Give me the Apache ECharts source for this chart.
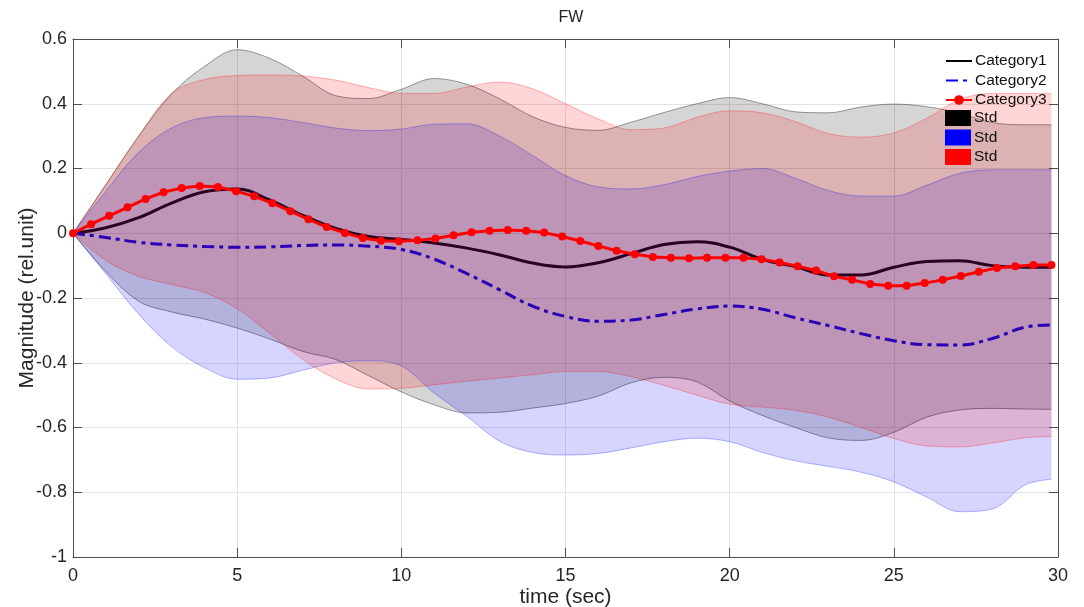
<!DOCTYPE html>
<html>
<head>
<meta charset="utf-8">
<script src="https://cdn.jsdelivr.net/npm/echarts@6/dist/echarts.min.js"></script>
<style>
html,body{margin:0;padding:0;background:#fff;}
#chart{width:1084px;height:607px;}
</style>
</head>
<body>
<div id="chart"></div>
<script>
// ---- data ----
const time = [0,1,2,3,4,5,6,7,8,9,10,11,12,13,14,15,16,17,18,19,20,21,22,23,24,25,26,27,28,29,29.8];
const cat1 = [0,0.017,0.048,0.093,0.128,0.137,0.102,0.055,0.015,-0.010,-0.019,-0.030,-0.046,-0.067,-0.092,-0.104,-0.091,-0.063,-0.035,-0.026,-0.043,-0.081,-0.103,-0.129,-0.129,-0.105,-0.087,-0.085,-0.100,-0.105,-0.105];
const cat2 = [0,-0.013,-0.028,-0.036,-0.041,-0.043,-0.042,-0.038,-0.036,-0.040,-0.050,-0.080,-0.125,-0.175,-0.225,-0.257,-0.272,-0.268,-0.251,-0.234,-0.225,-0.235,-0.261,-0.285,-0.310,-0.332,-0.344,-0.345,-0.325,-0.290,-0.283];
const time3 = [0,0.55,1.10,1.66,2.21,2.76,3.31,3.86,4.41,4.97,5.52,6.07,6.62,7.17,7.73,8.28,8.83,9.38,9.93,10.49,11.04,11.59,12.14,12.69,13.24,13.80,14.35,14.90,15.45,16.00,16.56,17.11,17.66,18.21,18.76,19.31,19.87,20.42,20.97,21.52,22.07,22.63,23.18,23.73,24.28,24.83,25.39,25.94,26.49,27.04,27.59,28.14,28.70,29.25,29.80];
const cat3 = [0,0.028,0.054,0.080,0.106,0.127,0.140,0.146,0.143,0.130,0.114,0.093,0.068,0.043,0.019,0.001,-0.015,-0.023,-0.025,-0.022,-0.016,-0.006,0.003,0.008,0.010,0.008,0.002,-0.010,-0.024,-0.039,-0.054,-0.065,-0.073,-0.076,-0.077,-0.076,-0.076,-0.076,-0.080,-0.090,-0.102,-0.115,-0.133,-0.144,-0.157,-0.162,-0.162,-0.154,-0.144,-0.132,-0.119,-0.107,-0.102,-0.098,-0.098];
const std1Upper = [0,0.15,0.30,0.43,0.515,0.567,0.54,0.485,0.425,0.416,0.445,0.478,0.46,0.415,0.36,0.327,0.318,0.343,0.373,0.400,0.419,0.40,0.375,0.372,0.39,0.399,0.391,0.371,0.342,0.335,0.335];
const std1Lower = [0,-0.118,-0.21,-0.243,-0.265,-0.293,-0.327,-0.365,-0.39,-0.44,-0.49,-0.53,-0.555,-0.553,-0.54,-0.526,-0.503,-0.462,-0.445,-0.459,-0.518,-0.563,-0.60,-0.632,-0.64,-0.615,-0.568,-0.546,-0.541,-0.543,-0.544];
const std2Upper = [0,0.13,0.25,0.325,0.357,0.362,0.357,0.342,0.325,0.317,0.322,0.337,0.338,0.30,0.24,0.178,0.143,0.137,0.15,0.175,0.192,0.20,0.17,0.132,0.115,0.115,0.148,0.185,0.196,0.196,0.196];
const std2Lower = [0,-0.125,-0.25,-0.35,-0.415,-0.451,-0.447,-0.423,-0.40,-0.394,-0.41,-0.494,-0.566,-0.643,-0.677,-0.685,-0.680,-0.663,-0.644,-0.633,-0.644,-0.677,-0.703,-0.72,-0.738,-0.768,-0.815,-0.86,-0.852,-0.777,-0.76];
const std3Upper = [0,0.15,0.30,0.432,0.475,0.487,0.489,0.486,0.473,0.45,0.432,0.432,0.452,0.467,0.446,0.40,0.353,0.32,0.325,0.358,0.378,0.372,0.345,0.308,0.297,0.31,0.355,0.413,0.432,0.432,0.432];
const std3Lower = [0,-0.084,-0.133,-0.158,-0.183,-0.233,-0.31,-0.39,-0.45,-0.481,-0.479,-0.468,-0.457,-0.447,-0.437,-0.427,-0.427,-0.443,-0.47,-0.50,-0.528,-0.537,-0.547,-0.568,-0.60,-0.634,-0.657,-0.66,-0.648,-0.632,-0.628];
const xTicks = {min: 0, max: 30, interval: 5};
const yTicks = {min: -1, max: 0.6, interval: 0.2};

// ---- build ----
const FONT = "'Liberation Sans', Arial, Helvetica, sans-serif";
const pairs = (xs, ys) => xs.map((x, i) => [x, ys[i]]);
// value first, time second (encode x:1, y:0) so that the stack acts on the value dimension
const vt = (xs, ys) => xs.map((x, i) => [ys[i], x]);
const vtDiff = (xs, up, lo) => xs.map((x, i) => [+(up[i] - lo[i]).toFixed(4), x]);

function band(key, legendName, rgb, edgeAlpha, up, lo) {
  const edge = 'rgba(' + rgb + ',' + edgeAlpha + ')';
  const common = {
    type: 'line', stack: key, stackStrategy: 'all', encode: {x: 1, y: 0},
    smooth: 0.35, symbol: 'none', showSymbol: false,
    lineStyle: {color: edge, width: 1}, itemStyle: {color: 'rgb(' + rgb + ')'},
    z: 3, silent: true
  };
  return [
    Object.assign({name: key + '-lower', data: vt(time, lo)}, common),
    Object.assign({name: legendName, data: vtDiff(time, up, lo),
      areaStyle: {color: 'rgba(' + rgb + ',0.165)', opacity: 1}}, common)
  ];
}

const axisCommon = {
  axisLine: {show: true, onZero: false, lineStyle: {color: '#4d4d4d', width: 1}},
  axisTick: {show: true, inside: true, length: 9, lineStyle: {color: '#4d4d4d'}},
  nameMoveOverlap: false
};

const legendText = {fontFamily: FONT, fontSize: 15.5, color: '#111', padding: [0, 0, 0, -2]};

const option = {
  animation: false,
  backgroundColor: '#fff',
  textStyle: {fontFamily: FONT},
  title: {
    text: 'FW', left: 566, top: 5, textAlign: 'center',
    textStyle: {fontFamily: FONT, fontSize: 16, fontWeight: 'normal', color: '#222'}
  },
  grid: {left: 73, right: 26, top: 39, bottom: 50, containLabel: false, outerBoundsMode: 'none'},
  legend: [
    {
      orient: 'vertical', left: 945, top: 53, padding: 0,
      itemWidth: 26, itemHeight: 12, itemGap: 3.5,
      textStyle: legendText,
      data: [
        {name: 'Category1', itemStyle: {opacity: 0}},
        {name: 'Category2', itemStyle: {opacity: 0}},
        {name: 'Category3'}
      ]
    },
    {
      orient: 'vertical', left: 945, top: 110, padding: 0,
      itemWidth: 26, itemHeight: 16, itemGap: 3.5,
      textStyle: legendText,
      data: [
        {name: 'Std', icon: 'rect', itemStyle: {color: '#000', opacity: 1, borderWidth: 0}},
        {name: 'Std ', icon: 'rect', itemStyle: {color: '#0000ff', opacity: 1, borderWidth: 0}},
        {name: 'Std  ', icon: 'rect', itemStyle: {color: '#ff0000', opacity: 1, borderWidth: 0}}
      ]
    }
  ],
  xAxis: [
    Object.assign({
      type: 'value', position: 'bottom', min: xTicks.min, max: xTicks.max, interval: xTicks.interval,
      axisLabel: {fontFamily: FONT, fontSize: 18, color: '#262626', margin: 10},
      splitLine: {show: true, lineStyle: {color: '#e3e3e3', width: 1}},
      name: 'time (sec)', nameLocation: 'middle', nameGap: 30,
      nameTextStyle: {fontFamily: FONT, fontSize: 21, color: '#262626'}
    }, axisCommon),
    Object.assign({
      type: 'value', position: 'top', min: xTicks.min, max: xTicks.max, interval: xTicks.interval,
      axisLabel: {show: false}, splitLine: {show: false}
    }, axisCommon)
  ],
  yAxis: [
    Object.assign({
      type: 'value', position: 'left', min: yTicks.min, max: yTicks.max, interval: yTicks.interval,
      axisLabel: {fontFamily: FONT, fontSize: 18, color: '#262626', margin: 6},
      splitLine: {show: true, lineStyle: {color: '#e3e3e3', width: 1}},
      name: 'Magnitude (rel.unit)', nameLocation: 'middle', nameGap: 35,
      nameTextStyle: {fontFamily: FONT, fontSize: 21, color: '#262626'}
    }, axisCommon),
    Object.assign({
      type: 'value', position: 'right', min: yTicks.min, max: yTicks.max, interval: yTicks.interval,
      axisLabel: {show: false}, splitLine: {show: false}
    }, axisCommon)
  ],
  series: [
    {
      name: 'Category1', type: 'line', data: pairs(time, cat1), smooth: 0.4, symbol: 'none',
      lineStyle: {color: '#000', width: 3}, itemStyle: {color: '#000'}, z: 2
    },
    {
      name: 'Category2', type: 'line', data: pairs(time, cat2), smooth: 0.4, symbol: 'none',
      lineStyle: {color: '#0000ff', width: 3, type: [12, 5, 4, 5]}, itemStyle: {color: '#0000ff'}, z: 2
    },
    {
      name: 'Category3', type: 'line', data: pairs(time3, cat3), smooth: false,
      symbol: 'circle', symbolSize: 8, showSymbol: true, showAllSymbol: true,
      lineStyle: {color: '#ff0000', width: 3}, itemStyle: {color: '#ff0000'}, z: 4
    }
  ]
    .concat(band('b1', 'Std', '0,0,0', 0.38, std1Upper, std1Lower))
    .concat(band('b2', 'Std ', '0,0,255', 0.28, std2Upper, std2Lower))
    .concat(band('b3', 'Std  ', '255,0,0', 0.28, std3Upper, std3Lower))
};

const chart = echarts.init(document.getElementById('chart'), null, {renderer: 'canvas'});
chart.setOption(option);
</script>
</body>
</html>
